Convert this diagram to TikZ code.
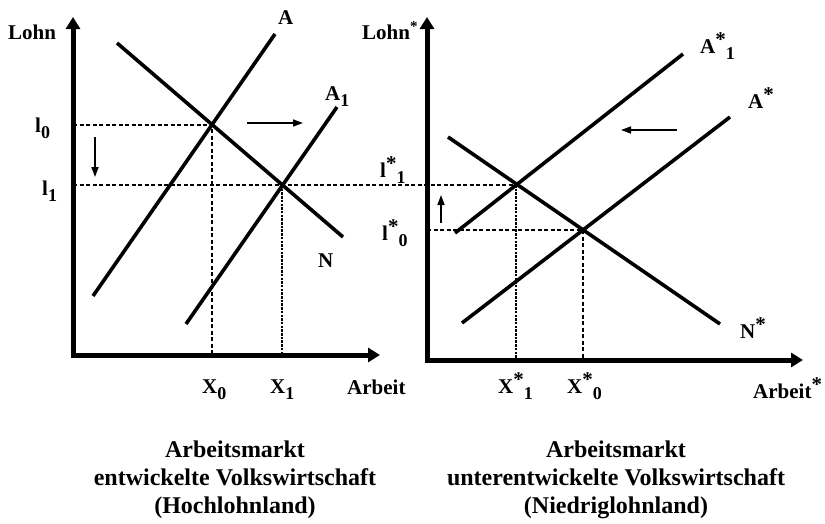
\documentclass[tikz,border=0pt]{standalone}
\usepackage{fontspec}
\setmainfont{Liberation Serif}
\usetikzlibrary{arrows.meta}
\newcommand{\subdn}[1]{\raisebox{-0.32em}{\fontsize{18}{18}\selectfont #1}}
\newcommand{\starup}{\raisebox{0.3em}{*}}
\newcommand{\starsm}{\raisebox{0.35em}{\fontsize{15}{15}\selectfont *}}

\begin{document}
\begin{tikzpicture}[
    x=1pt,y=-1pt,
    axis/.style={line width=5pt,line join=miter,{Triangle[length=12pt,width=14pt]}-{Triangle[length=12pt,width=14pt]}},
    curve/.style={line width=3.6pt},
    guide/.style={line width=1.3pt,dash pattern=on 4pt off 2.5pt},
    guidebold/.style={line width=2.6pt,dash pattern=on 2.5pt off 1.2pt},
    move/.style={-{Triangle[length=10pt,width=7pt]},line width=1.6pt},
    lbl/.style={inner sep=0pt,anchor=base west,font=\fontsize{21}{21}\selectfont\bfseries},
    caption/.style={inner sep=0pt,anchor=north,align=center,font=\fontsize{24}{28}\selectfont\bfseries}
  ]
  \useasboundingbox (0,0) rectangle (825,523);

  % Hochlohnland
  \coordinate (O) at (73,355);
  \coordinate (X0) at (212,125);
  \coordinate (X1) at (282,185);
  \draw[guide] (73,125) -- (X0) -- (212,355);
  \draw[guide] (73,185) -- (516,185);
  \draw[guidebold] (X1) -- (282,355);
  \draw[curve] (93,296) -- (275,34);
  \draw[curve] (186,324) -- (337,107);
  \draw[curve] (117,43) -- (343,237);
  \draw[axis] (73,17) -- (O) -- (380,355);
  \draw[move] (247,123) -- (303,123);
  \draw[move] (95,137) -- (95,177);

  \node[lbl] (lohn) at (8,39) {Lohn};
  \node[lbl] (lnull) at (35,132) {l\subdn{0}};
  \node[lbl] (leins) at (42,195) {l\subdn{1}};
  \node[lbl] (labA) at (278,24) {A};
  \node[lbl] (labAeins) at (325,100) {A\subdn{1}};
  \node[lbl] (labN) at (318,267) {N};
  \node[lbl] (xnull) at (202,393) {X\subdn{0}};
  \node[lbl] (xeins) at (270,393) {X\subdn{1}};
  \node[lbl] (arbeit) at (347,394) {Arbeit};

  % Niedriglohnland
  \coordinate (O2) at (427,360);
  \coordinate (P1) at (516,185);
  \coordinate (P0) at (583,230);
  \draw[guide] (427,230) -- (P0) -- (583,360);
  \draw[guidebold] (P1) -- (516,360);
  \draw[curve] (455,233) -- (683,54);
  \draw[curve] (462,323) -- (730,117);
  \draw[curve] (448,137) -- (720,324);
  \draw[axis] (427,17) -- (O2) -- (803,360);
  \draw[move] (677,130) -- (621,130);
  \draw[move] (441,223) -- (441,195);

  \node[lbl] (lohnst) at (362,39) {Lohn\starsm};
  \node[lbl] (lsteins) at (380,177) {l\starup\subdn{1}};
  \node[lbl] (lstnull) at (382,240) {l\starup\subdn{0}};
  \node[lbl] (labAsteins) at (700,53) {A\starup\subdn{1}};
  \node[lbl] (labAst) at (748,108) {A\starup};
  \node[lbl] (labNst) at (740,338) {N\starup};
  \node[lbl] (xsteins) at (498,393) {X\starup\subdn{1}};
  \node[lbl] (xstnull) at (567,393) {X\starup\subdn{0}};
  \node[lbl] (arbeitst) at (753,398) {Arbeit\starup};

  \node[caption] (capL) at (235,441) {Arbeitsmarkt\\entwickelte Volkswirtschaft\\(Hochlohnland)};
  \node[caption] (capR) at (616,441) {Arbeitsmarkt\\unterentwickelte Volkswirtschaft\\(Niedriglohnland)};
\end{tikzpicture}
\end{document}
